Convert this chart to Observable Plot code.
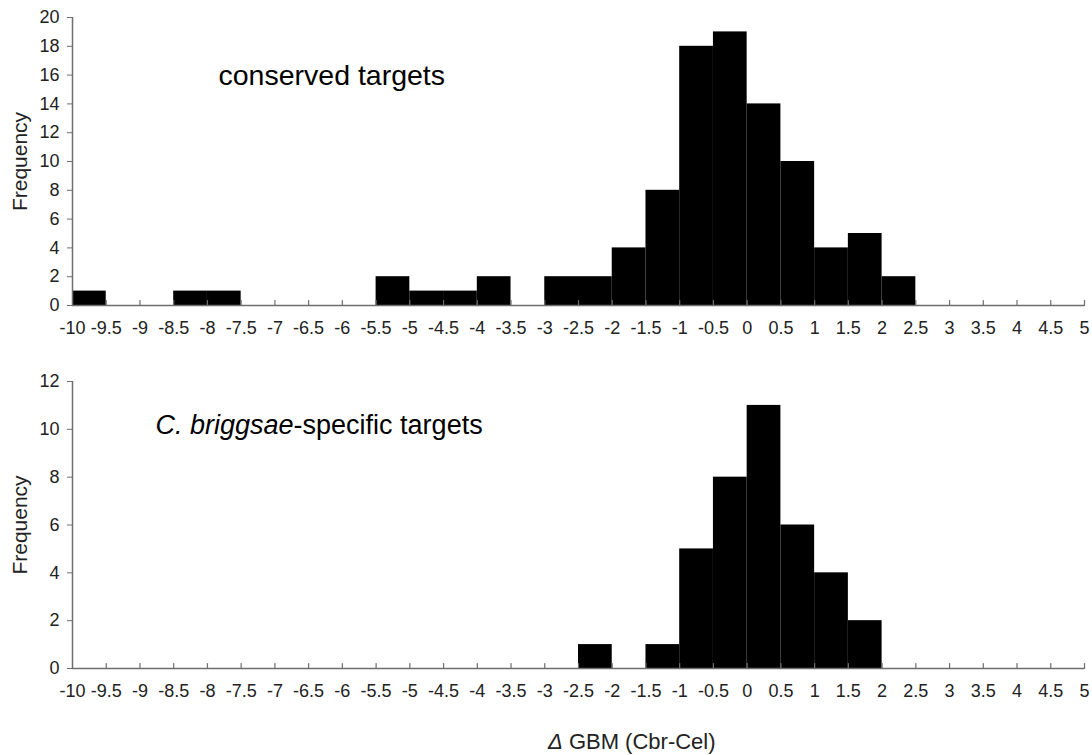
<!DOCTYPE html>
<html><head><meta charset="utf-8">
<script src="https://cdn.jsdelivr.net/npm/d3@7"></script>
<script src="https://cdn.jsdelivr.net/npm/@observablehq/plot@0.6"></script>
<style>
body{margin:0;background:#fff;font-family:"Liberation Sans",Arial,sans-serif;}
#wrap{position:relative;width:1092px;height:755px;overflow:hidden;}
#top{position:absolute;left:0;top:0;}
#bottom{position:absolute;left:0;top:340px;}
#xtitle{position:absolute;left:548px;top:729px;font-size:22px;color:#222;white-space:nowrap;}
</style></head><body>
<div id="wrap"><div id="top"></div><div id="bottom"></div><div id="xtitle"><i>Δ</i> GBM (Cbr-Cel)</div></div>
<script>
// Bin lower edges (bin width 0.5)
const binStarts = [-10,-9.5,-9,-8.5,-8,-7.5,-7,-6.5,-6,-5.5,-5,-4.5,-4,-3.5,-3,-2.5,-2,-1.5,-1,-0.5,0,0.5,1,1.5,2,2.5,3,3.5,4,4.5];
const binWidth = 0.5;
// Frequencies
const conservedCounts = [1,0,0,1,1,0,0,0,0,2,1,1,2,0,2,2,4,8,18,19,14,10,4,5,2,0,0,0,0,0];
const briggsaeCounts  = [0,0,0,0,0,0,0,0,0,0,0,0,0,0,0,1,0,1,5,8,11,6,4,2,0,0,0,0,0,0];
// Tick labels
const xTicks = [-10,-9.5,-9,-8.5,-8,-7.5,-7,-6.5,-6,-5.5,-5,-4.5,-4,-3.5,-3,-2.5,-2,-1.5,-1,-0.5,0,0.5,1,1.5,2,2.5,3,3.5,4,4.5,5];
const yTicksTop = [0,2,4,6,8,10,12,14,16,18,20];
const yTicksBottom = [0,2,4,6,8,10,12];
const noteTop = "conserved targets";
const noteBottom = "C. briggsae-specific targets";

const axisGray = "#6e6e6e";
const textColor = "#222";
const tickLine = {draw(context, l) { context.moveTo(0, 0); context.lineTo(0, -l); }};

function histogram(counts, yTicks, height, marginTop, plotH, note, noteSize, noteDx, noteDy) {
  const data = binStarts.map((s, i) => ({x1: s, x2: s + binWidth, n: counts[i]})).filter(d => d.n > 0);
  return Plot.plot({
    width: 1092,
    height,
    marginLeft: 72,
    marginRight: 8,
    marginTop,
    marginBottom: height - marginTop - plotH,
    style: {fontFamily: '"Liberation Sans", Arial, sans-serif', fontSize: "18px", color: textColor, background: "white"},
    x: {domain: [-10, 5]},
    y: {domain: [0, yTicks[yTicks.length - 1]]},
    marks: [
      Plot.rectY(data, {x1: "x1", x2: "x2", y: "n", fill: "black"}),
      Plot.ruleY([0], {stroke: axisGray, strokeWidth: 1.5}),
      Plot.ruleX([-10], {stroke: axisGray, strokeWidth: 1.5}),
      Plot.vector(xTicks.slice(1), {x: d => d, y: 0, length: 5, rotate: 0, anchor: "start", shape: tickLine, stroke: axisGray, strokeWidth: 1.2}),
      Plot.axisX({ticks: xTicks, tickSize: 0, tickPadding: 16, tickFormat: d => String(d), label: null, fill: textColor, fontSize: 18}),
      Plot.axisY({ticks: yTicks, tickSize: 5, tickPadding: 8, tickFormat: d => String(d), stroke: axisGray, fill: textColor, fontSize: 18,
                  label: "Frequency", labelAnchor: "center", labelArrow: "none", labelOffset: 60}),
      Plot.text([note], {text: d => d, frameAnchor: "top-left", textAnchor: "start", lineAnchor: "middle", dx: noteDx, dy: noteDy, fontSize: noteSize, fill: "black"})
    ]
  });
}

const topPlot = histogram(conservedCounts, yTicksTop, 340, 17, 288, noteTop, 28.5, 146, 58);
document.getElementById("top").appendChild(topPlot);

const bottomPlot = histogram(briggsaeCounts, yTicksBottom, 363, 41, 287, noteBottom, 27, 83, 44);
document.getElementById("bottom").appendChild(bottomPlot);

// Italicise the species name in the bottom annotation
bottomPlot.querySelectorAll("text").forEach(t => {
  if (t.textContent === noteBottom) {
    t.textContent = "";
    const ns = "http://www.w3.org/2000/svg";
    const a = document.createElementNS(ns, "tspan");
    a.setAttribute("font-style", "italic");
    a.textContent = "C. briggsae";
    const b = document.createElementNS(ns, "tspan");
    b.textContent = "-specific targets";
    t.appendChild(a); t.appendChild(b);
  }
});
// Frequency label font size
[topPlot, bottomPlot].forEach(svg => {
  svg.querySelectorAll("text").forEach(t => {
    if (t.textContent === "Frequency") t.setAttribute("font-size", "21");
  });
});
</script>
</body></html>
